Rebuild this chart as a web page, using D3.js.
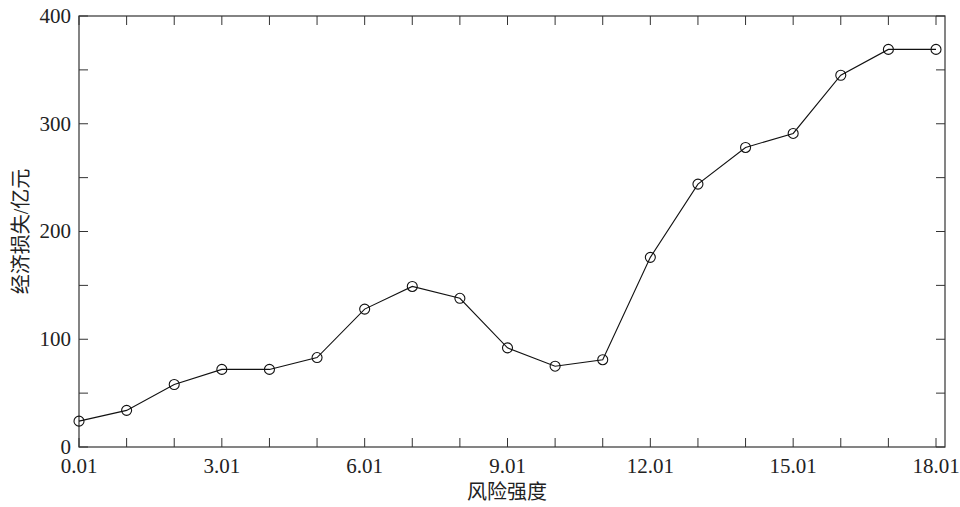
<!DOCTYPE html>
<html>
<head>
<meta charset="utf-8">
<script src="https://cdn.jsdelivr.net/npm/d3@7"></script>
<style>
  body { margin: 0; background: #fff; }
  text { font-family: "Liberation Serif", "Noto Sans CJK SC", serif; fill: #222; }
</style>
</head>
<body>
<div id="chart"></div>
<script>
// 风险强度 (x) 与 经济损失/亿元 (y)
const riskLevels = [0.01, 1.01, 2.01, 3.01, 4.01, 5.01, 6.01, 7.01, 8.01, 9.01,
                    10.01, 11.01, 12.01, 13.01, 14.01, 15.01, 16.01, 17.01, 18.01];
const losses = [24, 34, 58, 72, 72, 83, 128, 149, 138, 92,
                75, 81, 176, 244, 278, 291, 345, 369, 369];
const xTickLabels = [0.01, 3.01, 6.01, 9.01, 12.01, 15.01, 18.01];
const yTickLabels = [0, 100, 200, 300, 400];

const W = 960, H = 507;
const plotLeft = 79, plotTop = 16, plotRight = 945, plotBottom = 447;

const svg = d3.select("#chart").append("svg")
  .attr("width", W).attr("height", H);

const x = d3.scaleLinear().domain([0.01, 18.01]).range([plotLeft, 936]);
const y = d3.scaleLinear().domain([0, 400]).range([plotBottom, plotTop]);

const axisColor = "#333";
const tickLen = 9;

// 边框
svg.append("rect")
  .attr("x", plotLeft).attr("y", plotTop)
  .attr("width", plotRight - plotLeft).attr("height", plotBottom - plotTop)
  .attr("fill", "none").attr("stroke", axisColor).attr("stroke-width", 1.2);

// x 方向刻度（上下，朝内）
riskLevels.forEach(v => {
  svg.append("line")
    .attr("x1", x(v)).attr("x2", x(v))
    .attr("y1", plotBottom).attr("y2", plotBottom - tickLen)
    .attr("stroke", axisColor);
  svg.append("line")
    .attr("x1", x(v)).attr("x2", x(v))
    .attr("y1", plotTop).attr("y2", plotTop + tickLen)
    .attr("stroke", axisColor);
});

// y 方向刻度（左右，朝内）
d3.range(0, 401, 50).forEach(v => {
  svg.append("line")
    .attr("x1", plotLeft).attr("x2", plotLeft + tickLen)
    .attr("y1", y(v)).attr("y2", y(v))
    .attr("stroke", axisColor);
  svg.append("line")
    .attr("x1", plotRight).attr("x2", plotRight - tickLen)
    .attr("y1", y(v)).attr("y2", y(v))
    .attr("stroke", axisColor);
});

// 刻度标签
svg.selectAll("text.xt").data(xTickLabels).enter()
  .append("text")
  .attr("class", "xt")
  .attr("x", d => x(d))
  .attr("y", plotBottom + 26)
  .attr("text-anchor", "middle")
  .style("font-size", "21px")
  .text(d => d.toFixed(2));

svg.selectAll("text.yt").data(yTickLabels).enter()
  .append("text")
  .attr("class", "yt")
  .attr("x", plotLeft - 8)
  .attr("y", d => y(d))
  .attr("dy", "0.33em")
  .attr("text-anchor", "end")
  .style("font-size", "21px")
  .text(d => d);

// 轴标题
svg.append("text")
  .attr("x", 507).attr("y", 499)
  .attr("text-anchor", "middle")
  .style("font-size", "20px")
  .text("风险强度");

svg.append("text")
  .attr("transform", `translate(28,${(plotTop + plotBottom) / 2}) rotate(-90)`)
  .attr("text-anchor", "middle")
  .style("font-size", "20px")
  .text("经济损失/亿元");

// 折线
const pts = riskLevels.map((v, i) => [v, losses[i]]);
svg.append("path")
  .datum(pts)
  .attr("fill", "none")
  .attr("stroke", "#111")
  .attr("stroke-width", 1.1)
  .attr("d", d3.line().x(d => x(d[0])).y(d => y(d[1])));

svg.selectAll("circle.pt").data(pts).enter()
  .append("circle")
  .attr("class", "pt")
  .attr("cx", d => x(d[0]))
  .attr("cy", d => y(d[1]))
  .attr("r", 5)
  .attr("fill", "none")
  .attr("stroke", "#111")
  .attr("stroke-width", 1.1);
</script>
</body>
</html>
